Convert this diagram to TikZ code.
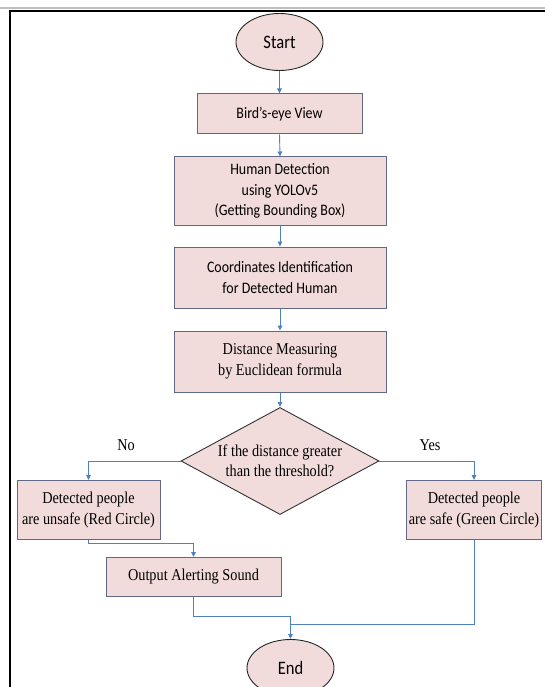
\documentclass[tikz,border=0pt]{standalone}
\usepackage{fontspec}
\setmainfont{Liberation Serif}
\newfontfamily\narrowserif[FakeStretch=0.86]{Liberation Serif}
\newfontfamily\calibri[FakeStretch=0.87]{Carlito}
\usetikzlibrary{shapes.geometric,arrows.meta}

\definecolor{boxfill}{RGB}{242,220,219}
\definecolor{boxline}{RGB}{96,106,136}
\definecolor{flowline}{RGB}{79,129,189}

\tikzset{
  terminal/.style={ellipse,draw=black!85,fill=boxfill,line width=0.9pt,
    minimum width=87pt,minimum height=57pt,inner sep=0pt,
    font=\calibri\fontsize{19}{22}\selectfont},
  process/.style={rectangle,draw=boxline,fill=boxfill,line width=1pt,
    align=center,inner sep=0pt},
  sansbox/.style={process,font=\calibri\fontsize{16}{20.5}\selectfont},
  serifbox/.style={process,font=\narrowserif\fontsize{16.6}{20.5}\selectfont},
  decision/.style={diamond,draw=black!80,fill=boxfill,line width=0.9pt,
    aspect=1.85,minimum width=198pt,minimum height=107pt,inner sep=0pt,
    align=center,font=\narrowserif\fontsize{16.6}{20.5}\selectfont},
  answer/.style={font=\narrowserif\fontsize{16.6}{19}\selectfont},
  flow/.style={draw=flowline,line width=0.9pt,-{Triangle[length=5pt,width=4.5pt]}},
  joinline/.style={draw=flowline,line width=0.9pt},
}

\begin{document}
\begin{tikzpicture}[x=1pt,y=-1pt]
  \useasboundingbox (0,0) rectangle (545,687);
  % page frame
  \draw[black!25,line width=2pt] (0,8) -- (545,8);
  \draw[black,line width=1.3pt] (10,700) -- (10,11) -- (560,11);

  % main column
  \node[terminal] (start) at (279.5,42) {Start};
  \node[sansbox,minimum width=165pt,minimum height=40pt] (birdview) at (279.5,114) {Bird’s-eye View};
  \node[sansbox,minimum width=212pt,minimum height=68pt] (humandet) at (280,191)
    {Human Detection\\using YOLOv5\\(Getting Bounding Box)};
  \node[sansbox,minimum width=212pt,minimum height=61pt] (coordid) at (280,277.5)
    {Coordinates Identification\\for Detected Human};
  \node[serifbox,minimum width=212pt,minimum height=61pt] (distmeas) at (280,361.5)
    {Distance Measuring\\by Euclidean formula};
  \node[decision] (threshold) at (280,461) {If the distance greater\\than the threshold?};

  % the two outcomes
  \node[serifbox,minimum width=143pt,minimum height=59pt] (unsafe) at (88.5,510)
    {Detected people\\are unsafe (Red Circle)};
  \node[serifbox,minimum width=135pt,minimum height=59pt] (safe) at (474,510)
    {Detected people\\are safe (Green Circle)};
  \node[serifbox,minimum width=175pt,minimum height=39pt] (alert) at (193.5,577)
    {Output Alerting Sound};
  \node[terminal] (end) at (290.5,668) {End};

  \node[answer] (nolabel) at (126,445) {No};
  \node[answer] (yeslabel) at (430,445) {Yes};

  % connectors
  \draw[flow] (start.south) -- (birdview.north);
  \draw[flow] (birdview.south) -- (humandet.north);
  \draw[flow] (humandet.south) -- (coordid.north);
  \draw[flow] (coordid.south) -- (distmeas.north);
  \draw[flow] (distmeas.south) -- (threshold.north);
  \draw[flow] (threshold.west) -| (unsafe.north);
  \draw[flow] (threshold.east) -| (safe.north);
  \draw[flow] (unsafe.south) -- ++(0,3) -| (alert.north);
  \path (end.north) ++(0,-15) coordinate (merge);
  \draw[joinline] (safe.south) |- (merge);
  \draw[flow] (alert.south) -- ++(0,19) -| (end.north);
\end{tikzpicture}
\end{document}
